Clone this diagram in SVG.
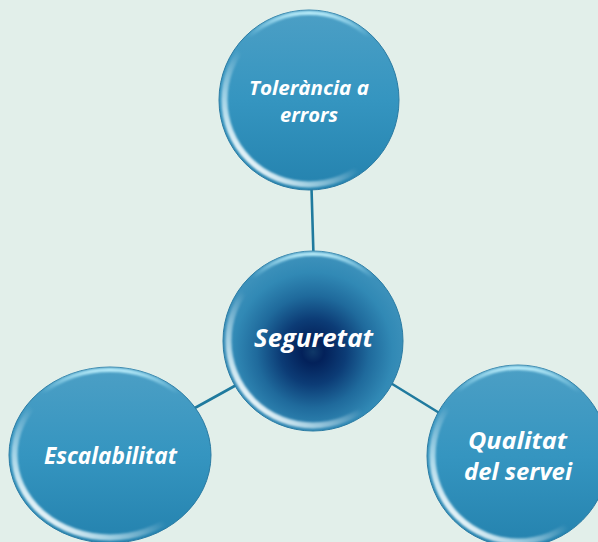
<svg xmlns="http://www.w3.org/2000/svg" width="598" height="542" viewBox="0 0 598 542">
  <defs>
    <style>
      .link { stroke: #1f7a9e; stroke-width: 2.6; fill: none; stroke-linecap: round; }
      .body { fill: url(#ballFill); stroke: #2a7ba3; stroke-width: 1; }
      .core { fill: url(#coreFill); stroke: #2a7ba3; stroke-width: 1; }
      .shine { fill: none; stroke: url(#lowShine); stroke-width: 6; filter: url(#soft); }
      .gloss { fill: none; stroke: url(#topGloss); stroke-width: 4; filter: url(#soft); }
      .label { fill: #ffffff; font-family: "Open Sans", "Noto Sans", "DejaVu Sans", sans-serif; font-weight: bold; font-style: italic; text-anchor: middle; }
    </style>
    <linearGradient id="ballFill" x1="0" y1="0" x2="0" y2="1">
      <stop offset="0" stop-color="#4c9fc5"/>
      <stop offset="0.5" stop-color="#3595c0"/>
      <stop offset="1" stop-color="#2482ae"/>
    </linearGradient>
    <radialGradient id="coreFill" cx="0.5" cy="0.56" r="0.52">
      <stop offset="0" stop-color="#0f3868"/>
      <stop offset="0.12" stop-color="#03215a"/>
      <stop offset="0.35" stop-color="#0c3c76"/>
      <stop offset="0.6" stop-color="#1f6a9c"/>
      <stop offset="0.85" stop-color="#3189b5"/>
      <stop offset="1" stop-color="#3b90ba"/>
    </radialGradient>
    <linearGradient id="lowShine" x1="0.1" y1="0.9" x2="0.5" y2="0.5">
      <stop offset="0" stop-color="#ffffff" stop-opacity="1"/>
      <stop offset="0.4" stop-color="#e8fbff" stop-opacity="0.6"/>
      <stop offset="0.85" stop-color="#ffffff" stop-opacity="0"/>
    </linearGradient>
    <linearGradient id="topGloss" x1="0" y1="0" x2="0" y2="1">
      <stop offset="0" stop-color="#c4f4ff" stop-opacity="0.9"/>
      <stop offset="0.14" stop-color="#a8e8fb" stop-opacity="0"/>
      <stop offset="1" stop-color="#ffffff" stop-opacity="0"/>
    </linearGradient>
    <filter id="soft" x="-10%" y="-10%" width="120%" height="120%">
      <feGaussianBlur stdDeviation="1.3"/>
    </filter>
  </defs>

  <rect width="598" height="542" fill="#e2efea"/>

  <!-- connectors -->
  <g id="connectors">
    <line class="link" x1="311.5" y1="188" x2="313.5" y2="256"/>
    <line class="link" x1="240" y1="383" x2="193" y2="409"/>
    <line class="link" x1="389" y1="382" x2="441" y2="414"/>
  </g>

  <!-- top node -->
  <g id="node-tolerancia">
    <circle class="body" cx="309" cy="100" r="90"/>
    <circle class="gloss" cx="309" cy="100" r="87"/>
    <circle class="shine" cx="309" cy="100" r="84.5"/>
    <text class="label" x="309" y="95" font-size="20" textLength="120" lengthAdjust="spacingAndGlyphs">Tolerància a</text>
    <text class="label" x="309" y="122" font-size="20" textLength="58" lengthAdjust="spacingAndGlyphs">errors</text>
  </g>

  <!-- central node -->
  <g id="node-seguretat">
    <circle class="core" cx="313" cy="341" r="90"/>
    <circle class="gloss" cx="313" cy="341" r="87"/>
    <circle class="shine" cx="313" cy="341" r="84.5"/>
    <text class="label" x="313.5" y="347" font-size="25" textLength="119" lengthAdjust="spacingAndGlyphs">Seguretat</text>
  </g>

  <!-- bottom-left node -->
  <g id="node-escalabilitat">
    <ellipse class="body" cx="110" cy="455" rx="101" ry="88"/>
    <ellipse class="gloss" cx="110" cy="455" rx="98" ry="85"/>
    <ellipse class="shine" cx="110" cy="455" rx="95.5" ry="82.5"/>
    <text class="label" x="110.5" y="464" font-size="23" textLength="133" lengthAdjust="spacingAndGlyphs">Escalabilitat</text>
  </g>

  <!-- bottom-right node -->
  <g id="node-qualitat">
    <circle class="body" cx="518" cy="456" r="91"/>
    <circle class="gloss" cx="518" cy="456" r="88"/>
    <circle class="shine" cx="518" cy="456" r="85.5"/>
    <text class="label" x="517.5" y="449" font-size="23" textLength="99" lengthAdjust="spacingAndGlyphs">Qualitat</text>
    <text class="label" x="518" y="480" font-size="23" textLength="108" lengthAdjust="spacingAndGlyphs">del servei</text>
  </g>
</svg>
